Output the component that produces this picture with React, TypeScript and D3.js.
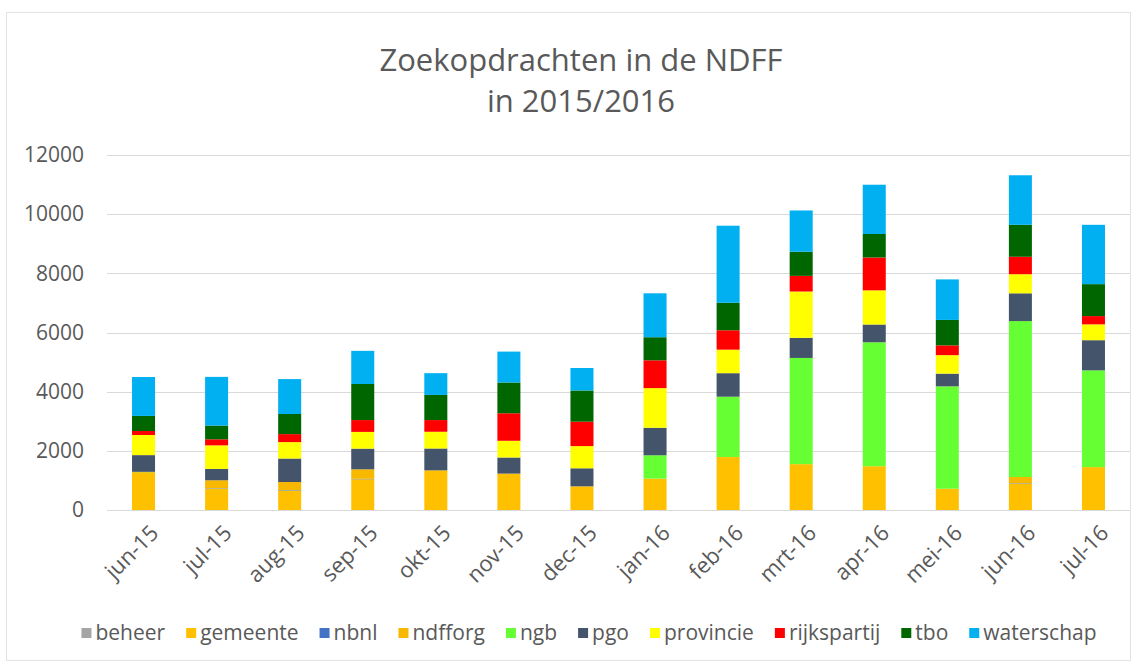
import React, { useEffect, useRef } from 'react';
import * as d3 from 'd3';

// Zoekopdrachten in de NDFF, stacked per maand

const months = ['jun-15', 'jul-15', 'aug-15', 'sep-15', 'okt-15', 'nov-15', 'dec-15',
  'jan-16', 'feb-16', 'mrt-16', 'apr-16', 'mei-16', 'jun-16', 'jul-16'];

const beheer = [0, 0, 0, 0, 0, 0, 0, 0, 0, 0, 0, 0, 0, 0];
const gemeente = [1250, 720, 660, 1040, 1340, 1230, 800, 1060, 1790, 1550, 1480, 720, 890, 1450];
const nbnl = [0, 15, 15, 15, 0, 0, 0, 0, 0, 0, 0, 0, 15, 0];
const ndfforg = [30, 270, 270, 320, 0, 0, 0, 0, 0, 0, 0, 0, 210, 0];
const ngb = [10, 0, 0, 0, 0, 0, 0, 790, 2040, 3590, 4190, 3460, 5270, 3270];
const pgo = [565, 385, 795, 700, 740, 545, 610, 930, 795, 680, 600, 430, 940, 1020];
const provincie = [680, 795, 555, 565, 565, 565, 750, 1340, 795, 1565, 1155, 625, 645, 535];
const rijkspartij = [135, 205, 270, 400, 395, 930, 825, 940, 655, 530, 1110, 330, 590, 280];
const tbo = [510, 465, 680, 1220, 850, 1040, 1055, 780, 930, 815, 795, 860, 1080, 1080];
const waterschap = [1315, 1645, 1180, 1120, 735, 1045, 760, 1485, 2605, 1395, 1665, 1370, 1675, 2005];

const seriesNames = ['beheer', 'gemeente', 'nbnl', 'ndfforg', 'ngb', 'pgo', 'provincie', 'rijkspartij', 'tbo', 'waterschap'];
const seriesValues = [beheer, gemeente, nbnl, ndfforg, ngb, pgo, provincie, rijkspartij, tbo, waterschap];
const seriesColors = ['#A5A5A5', '#FFC000', '#4472C4', '#F9B800', '#66FF33', '#44546A', '#FFFF00', '#FF0000', '#006600', '#00B0F0'];

const yTicks = [0, 2000, 4000, 6000, 8000, 10000, 12000];

const width = 1144;
const height = 664;
const font = '"Open Sans", sans-serif';
const textColor = '#595959';

const App = () => {

  const chartRef = useRef(null);

  useEffect(() => {
    const svg = d3.select(chartRef.current);
    svg.selectAll('*').remove();

    const rows = months.map((month, i) => {
      const row: any = { month };
      seriesNames.forEach((name, k) => { row[name] = seriesValues[k][i]; });
      return row;
    });

    const stacked = d3.stack().keys(seriesNames)(rows);

    const xScale = d3.scaleBand()
      .domain(months)
      .range([107, 1130])
      .paddingInner(0.685)
      .paddingOuter(0.3425);

    const yScale = d3.scaleLinear()
      .domain([0, 12000])
      .range([510, 155]);

    const colorScale = d3.scaleOrdinal().domain(seriesNames).range(seriesColors);

    svg.append('rect')
      .attr('x', 0).attr('y', 0)
      .attr('width', width).attr('height', height)
      .attr('fill', '#fff');

    svg.append('rect')
      .attr('x', 6.5).attr('y', 12.5)
      .attr('width', 1124).attr('height', 648)
      .attr('fill', 'none')
      .attr('stroke', '#E2E2E2');

    // title
    svg.append('g')
      .attr('font-family', font)
      .attr('font-size', 31)
      .attr('fill', textColor)
      .attr('text-anchor', 'middle')
      .selectAll('text')
      .data(['Zoekopdrachten in de NDFF', 'in 2015/2016'])
      .join('text')
      .attr('x', 581)
      .attr('y', (d, i) => 71 + i * 41)
      .text(d => d);

    // grid
    svg.append('g')
      .selectAll('line')
      .data(yTicks)
      .join('line')
      .attr('x1', 107).attr('x2', 1130)
      .attr('y1', d => Math.round(yScale(d)) + 0.5)
      .attr('y2', d => Math.round(yScale(d)) + 0.5)
      .attr('stroke', '#D9D9D9')
      .attr('stroke-width', 1.2);

    const yAxis = d3.axisLeft(yScale).tickValues(yTicks).tickFormat(d3.format('d')).tickSize(0).tickPadding(0);
    svg.append('g')
      .attr('transform', 'translate(84, 0)')
      .call(yAxis)
      .call(g => g.select('.domain').remove())
      .call(g => g.selectAll('text')
        .attr('font-family', font)
        .attr('font-size', 21)
        .attr('fill', textColor));

    // bars
    svg.append('g')
      .selectAll('g')
      .data(stacked)
      .join('g')
      .attr('fill', d => colorScale(d.key) as string)
      .selectAll('rect')
      .data(d => d)
      .join('rect')
      .attr('x', d => xScale(d.data.month))
      .attr('y', d => yScale(d[1]))
      .attr('width', xScale.bandwidth())
      .attr('height', d => yScale(d[0]) - yScale(d[1]));

    // x labels
    svg.append('g')
      .attr('font-family', font)
      .attr('font-size', 22)
      .attr('fill', textColor)
      .attr('text-anchor', 'end')
      .selectAll('text')
      .data(months)
      .join('text')
      .attr('transform', d => `translate(${xScale(d) + xScale.bandwidth() / 2 + 11}, 529) rotate(-45)`)
      .attr('dy', '0.35em')
      .text(d => d);

    // legend
    const legend = svg.append('g')
      .attr('font-family', font)
      .attr('font-size', 21)
      .attr('fill', textColor);

    const items = legend.selectAll('g')
      .data(seriesNames)
      .join('g');

    items.append('rect')
      .attr('width', 10).attr('height', 10)
      .attr('y', -5)
      .attr('fill', d => colorScale(d) as string);

    items.append('text')
      .attr('x', 14)
      .attr('dy', '0.32em')
      .text(d => d);

    const widths: number[] = [];
    items.select('text').each(function () {
      widths.push((this as SVGTextElement).getComputedTextLength());
    });
    const gap = 21;
    const total = d3.sum(widths) + widths.length * 14 + (widths.length - 1) * gap;
    let cursor = 589 - total / 2;
    items.attr('transform', (d, i) => {
      const x = cursor;
      cursor += 14 + widths[i] + gap;
      return `translate(${x}, 633)`;
    });
  });

  return (
    <svg
      ref={chartRef}
      width={width}
      height={height}
      viewBox={`0 0 ${width} ${height}`}
      style={{ position: 'absolute', left: 0, top: 0 }}
    />
  );
};

export default App;
